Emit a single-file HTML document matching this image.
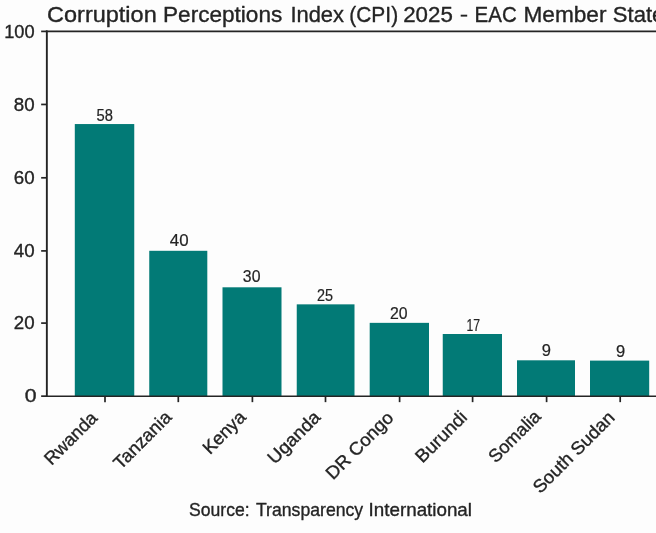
<!DOCTYPE html>
<html><head><meta charset="utf-8"><title>CPI 2025 - EAC Member States</title>
<style>
html,body{margin:0;padding:0;background:#fdfdfd;}
body{width:656px;height:533px;overflow:hidden;font-family:"Liberation Sans",sans-serif;}
svg{display:block;will-change:transform;}
text{font-family:"Liberation Sans",sans-serif;fill:#242424;stroke:#242424;stroke-width:0.35px;stroke-linejoin:round;}
</style></head><body>
<svg width="656" height="533" viewBox="0 0 656 533">
<rect x="0" y="0" width="656" height="533" fill="#fdfdfd"/>

<g fill="#027a76">
<rect x="74.8" y="124.05" width="59.45" height="272.10"/>
<rect x="149.25" y="250.8" width="58.05" height="145.35"/>
<rect x="222.5" y="287.3" width="59.00" height="108.85"/>
<rect x="296.75" y="304.35" width="57.75" height="91.80"/>
<rect x="369.7" y="322.85" width="59.30" height="73.30"/>
<rect x="442.75" y="334.0" width="59.25" height="62.15"/>
<rect x="517.0" y="360.3" width="58.00" height="35.85"/>
<rect x="590.0" y="360.6" width="59.20" height="35.55"/>
</g>
<g stroke="#242424" stroke-width="1.9" fill="none">
<line x1="46.85" y1="30.5" x2="46.85" y2="396.95"/>
<line x1="45.85" y1="31.4" x2="656" y2="31.4"/>
<line x1="45.9" y1="396.2" x2="656" y2="396.2" stroke-width="1.6"/>
</g>
<g stroke="#242424" stroke-width="1.7" fill="none">
<line x1="41.15" y1="396.15" x2="46.85" y2="396.15"/>
<line x1="41.15" y1="323.10" x2="46.85" y2="323.10"/>
<line x1="41.15" y1="250.90" x2="46.85" y2="250.90"/>
<line x1="41.15" y1="177.80" x2="46.85" y2="177.80"/>
<line x1="41.15" y1="104.45" x2="46.85" y2="104.45"/>
<line x1="41.15" y1="31.40" x2="46.85" y2="31.40"/>
<line x1="105.0" y1="396.15" x2="105.0" y2="402.15"/>
<line x1="178.3" y1="396.15" x2="178.3" y2="402.15"/>
<line x1="252.4" y1="396.15" x2="252.4" y2="402.15"/>
<line x1="325.5" y1="396.15" x2="325.5" y2="402.15"/>
<line x1="399.6" y1="396.15" x2="399.6" y2="402.15"/>
<line x1="472.6" y1="396.15" x2="472.6" y2="402.15"/>
<line x1="546.6" y1="396.15" x2="546.6" y2="402.15"/>
<line x1="620.2" y1="396.15" x2="620.2" y2="402.15"/>
</g>
<text id="yl0" x="36.6" y="402.45" font-size="18.4" text-anchor="end" textLength="11.8" lengthAdjust="spacingAndGlyphs">0</text>
<text id="yl20" x="34.6" y="329.40" font-size="18.4" text-anchor="end" textLength="20.8" lengthAdjust="spacingAndGlyphs">20</text>
<text id="yl40" x="34.6" y="257.20" font-size="18.4" text-anchor="end" textLength="20.8" lengthAdjust="spacingAndGlyphs">40</text>
<text id="yl60" x="34.6" y="184.10" font-size="18.4" text-anchor="end" textLength="20.8" lengthAdjust="spacingAndGlyphs">60</text>
<text id="yl80" x="34.6" y="110.75" font-size="18.4" text-anchor="end" textLength="20.8" lengthAdjust="spacingAndGlyphs">80</text>
<text id="yl100" x="34.6" y="37.70" font-size="18.4" text-anchor="end" textLength="30.4" lengthAdjust="spacingAndGlyphs">100</text>
<text id="bl0" style="stroke-width:0.2px" x="104.75" y="120.50" font-size="15.6" text-anchor="middle" textLength="16.4" lengthAdjust="spacingAndGlyphs">58</text>
<text id="bl1" style="stroke-width:0.2px" x="179.20" y="245.80" font-size="15.6" text-anchor="middle" textLength="18.8" lengthAdjust="spacingAndGlyphs">40</text>
<text id="bl2" style="stroke-width:0.2px" x="251.65" y="282.30" font-size="15.6" text-anchor="middle" textLength="17.6" lengthAdjust="spacingAndGlyphs">30</text>
<text id="bl3" style="stroke-width:0.2px" x="325.05" y="300.50" font-size="15.6" text-anchor="middle" textLength="16.0" lengthAdjust="spacingAndGlyphs">25</text>
<text id="bl4" style="stroke-width:0.2px" x="398.75" y="318.90" font-size="15.6" text-anchor="middle" textLength="17.6" lengthAdjust="spacingAndGlyphs">20</text>
<text id="bl5" style="stroke-width:0.2px" x="473.20" y="330.50" font-size="15.6" text-anchor="middle" textLength="13.6" lengthAdjust="spacingAndGlyphs">17</text>
<text id="bl6" style="stroke-width:0.2px" x="546.30" y="355.90" font-size="15.6" text-anchor="middle" textLength="9.2" lengthAdjust="spacingAndGlyphs">9</text>
<text id="bl7" style="stroke-width:0.2px" x="620.60" y="356.50" font-size="15.6" text-anchor="middle" textLength="9.2" lengthAdjust="spacingAndGlyphs">9</text>
<text id="xl0" transform="translate(98.40,419.10) rotate(-45)" x="0" y="0" font-size="18.2" text-anchor="end" textLength="66.5" lengthAdjust="spacingAndGlyphs">Rwanda</text>
<text id="xl1" transform="translate(172.60,418.40) rotate(-45)" x="0" y="0" font-size="18.2" text-anchor="end" textLength="73.3" lengthAdjust="spacingAndGlyphs">Tanzania</text>
<text id="xl2" transform="translate(246.90,418.30) rotate(-45)" x="0" y="0" font-size="18.2" text-anchor="end" textLength="52.3" lengthAdjust="spacingAndGlyphs">Kenya</text>
<text id="xl3" transform="translate(321.50,418.40) rotate(-45)" x="0" y="0" font-size="18.2" text-anchor="end" textLength="66.0" lengthAdjust="spacingAndGlyphs">Uganda</text>
<text id="xl4" transform="translate(394.50,418.90) rotate(-45)" x="0" y="0" font-size="18.2" text-anchor="end" textLength="87.0" lengthAdjust="spacingAndGlyphs">DR Congo</text>
<text id="xl5" transform="translate(468.20,418.20) rotate(-45)" x="0" y="0" font-size="18.2" text-anchor="end" textLength="64.5" lengthAdjust="spacingAndGlyphs">Burundi</text>
<text id="xl6" transform="translate(542.00,417.50) rotate(-45)" x="0" y="0" font-size="18.2" text-anchor="end" textLength="65.5" lengthAdjust="spacingAndGlyphs">Somalia</text>
<text id="xl7" transform="translate(615.80,418.60) rotate(-45)" x="0" y="0" font-size="18.2" text-anchor="end" textLength="107.0" lengthAdjust="spacingAndGlyphs">South Sudan</text>
<text x="47.1" y="21.7" font-size="22.0" textLength="109.6" lengthAdjust="spacingAndGlyphs">Corruption</text>
<text x="163.0" y="21.7" font-size="22.0" textLength="119.3" lengthAdjust="spacingAndGlyphs">Perceptions</text>
<text x="290.4" y="21.7" font-size="22.0" textLength="53.6" lengthAdjust="spacingAndGlyphs">Index</text>
<text x="349.3" y="21.7" font-size="22.0" textLength="48.8" lengthAdjust="spacingAndGlyphs">(CPI)</text>
<text x="403.2" y="21.7" font-size="22.0" textLength="49.6" lengthAdjust="spacingAndGlyphs">2025</text>
<rect x="460.7" y="14.7" width="6.5" height="1.9" fill="#242424"/>
<text x="474.6" y="21.7" font-size="22.0" textLength="42.2" lengthAdjust="spacingAndGlyphs">EAC</text>
<text x="523.5" y="21.7" font-size="22.0" textLength="83.0" lengthAdjust="spacingAndGlyphs">Member</text>
<text x="612.8" y="21.7" font-size="22.0" textLength="51.6" lengthAdjust="spacingAndGlyphs">State</text>
<text x="189.0" y="515.7" font-size="18.2" textLength="60.6" lengthAdjust="spacingAndGlyphs">Source:</text>
<text x="256.0" y="515.7" font-size="18.2" textLength="107.2" lengthAdjust="spacingAndGlyphs">Transparency</text>
<text x="368.6" y="515.7" font-size="18.2" textLength="103.4" lengthAdjust="spacingAndGlyphs">International</text>
</svg></body></html>
